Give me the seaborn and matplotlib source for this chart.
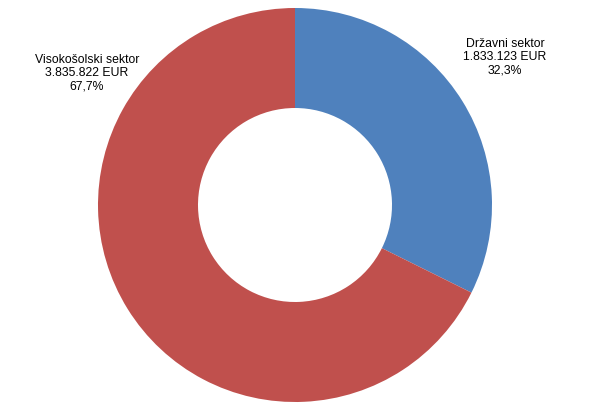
import matplotlib
matplotlib.use("Agg")
import matplotlib.pyplot as plt
import seaborn as sns

sectors = ["Državni sektor", "Visokošolski sektor"]
amounts = [1833123, 3835822]
amount_labels = ["1.833.123 EUR", "3.835.822 EUR"]
pct_labels = ["32,3%", "67,7%"]
colors = ["#4F81BD", "#C0504D"]

sns.set_theme(style="white")
plt.rcParams['font.family'] = ['Liberation Sans', 'DejaVu Sans']

fig = plt.figure(figsize=(5.9, 4.12), dpi=100)
ax = fig.add_axes([0, 0, 1, 1])
cx, cy, r = 295, 207, 197
ax.pie(amounts, colors=colors, startangle=90, counterclock=False,
       center=(cx, cy), radius=r,
       wedgeprops=dict(width=100, edgecolor="none", linewidth=0))
ax.set_xlim(0, 590)
ax.set_ylim(0, 412)
ax.set_aspect('equal')
ax.axis('off')

label_pos = [(505, 412 - 57), (87, 412 - 73)]
for name, amt, pct, (x, y) in zip(sectors, amount_labels, pct_labels, label_pos):
    ax.text(x, y, f"{name}\n{amt}\n{pct}", ha="center", va="center",
            fontsize=8.8, color="black", linespacing=1.15)

fig.savefig("out.png", dpi=100)
